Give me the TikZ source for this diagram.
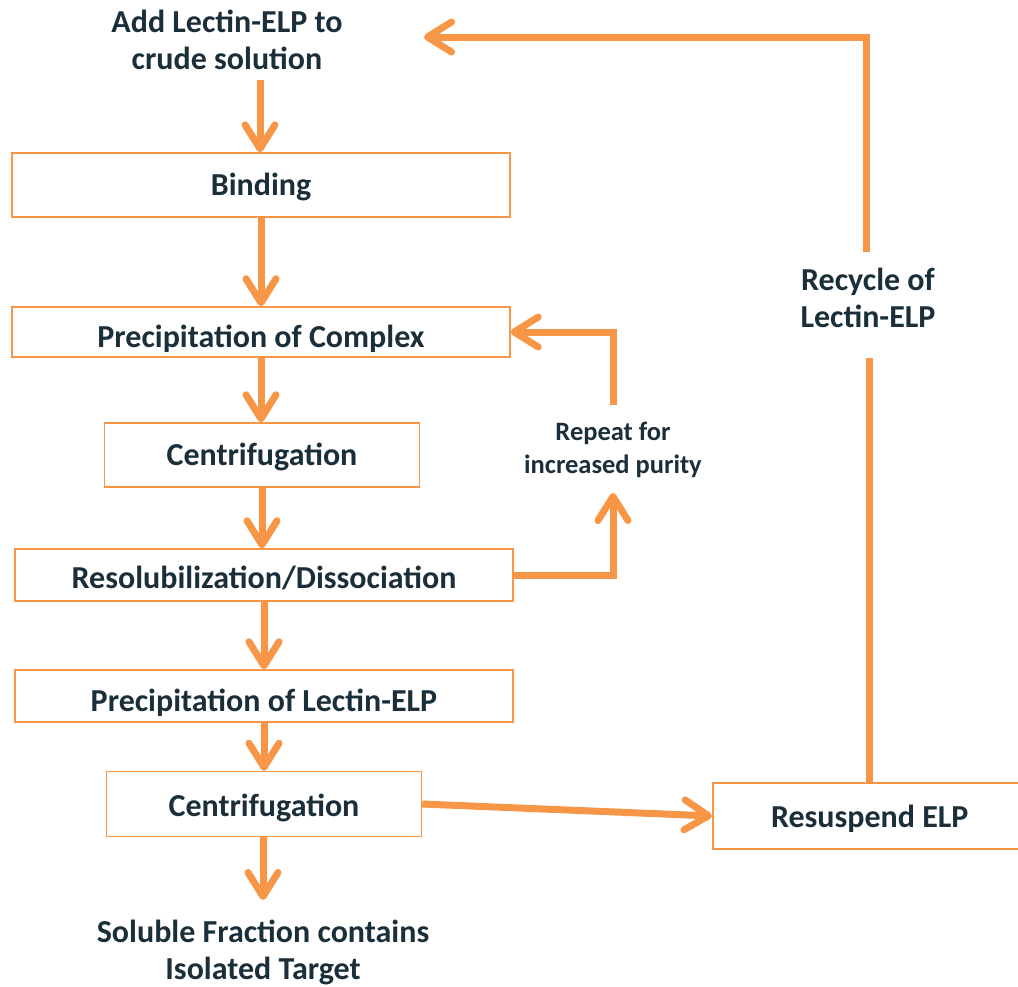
\documentclass[tikz,border=0pt]{standalone}
\usepackage{fontspec}
\setmainfont{Carlito}
\usetikzlibrary{arrows.meta}
\definecolor{org}{HTML}{F79646}
\definecolor{txt}{HTML}{1B2F3A}
\begin{document}
\begin{tikzpicture}[x=1pt,y=-1pt,
  box/.style={draw=org,line width=1.5pt,fill=white,inner sep=0pt,text=txt,text depth=6.5pt,font=\fontsize{32}{37}\selectfont\bfseries},
  lbl/.style={text=txt,align=center,inner sep=0pt,font=\fontsize{32}{37}\selectfont\bfseries},
  slbl/.style={text=txt,align=center,inner sep=0pt,font=\fontsize{26.5}{33}\selectfont\bfseries},
  arr/.style={draw=org,line width=7pt,-{Straight Barb[length=24pt,width=30pt,round]}},
  ln/.style={draw=org,line width=7pt}]
\useasboundingbox (0,0) rectangle (1018,986);
\node[lbl] (add) at (227,40) {Add Lectin-ELP to\\crude solution};
\node[box,text height=28pt,minimum width=498pt,minimum height=64pt] (bind) at (261,185) {Binding};
\node[box,text height=38pt,minimum width=498pt,minimum height=50pt] (pc) at (261,332) {Precipitation of Complex};
\node[box,text height=28pt,minimum width=315pt,minimum height=64pt] (c1) at (262,455) {Centrifugation};
\node[box,text height=34pt,minimum width=498pt,minimum height=52pt] (res) at (264,575) {Resolubilization/Dissociation};
\node[box,text height=38pt,minimum width=498pt,minimum height=52pt] (pl) at (264,696) {Precipitation of Lectin-ELP};
\node[box,text height=32pt,minimum width=315pt,minimum height=65pt] (c2) at (264,804) {Centrifugation};
\node[box,text height=30pt,minimum width=320pt,minimum height=66pt,anchor=west] (rs) at (712,816) {\hspace*{-6pt}Resuspend ELP};
\node[lbl] (sol) at (263,952) {Soluble Fraction contains\\Isolated Target};
\node[slbl] (rep) at (613,450) {Repeat for\\increased purity};
\node[lbl] (rec) at (868,298) {Recycle of\\Lectin-ELP};
\coordinate (a1) at (260,80);
\coordinate (s1) at (263,837);
\coordinate (t1) at (263,900);
\coordinate (rp1) at (613,575);
\coordinate (rp2) at (613,493);
\coordinate (rp3) at (613,405);
\coordinate (rp4) at (613,332);
\coordinate (re1) at (869,783);
\coordinate (re2) at (869,358);
\coordinate (rc1) at (866,252);
\coordinate (rc2) at (866,37);
\coordinate (rc3) at (424,37);
\draw[arr] (a1) -- (a1 |- bind.north);
\draw[arr] (bind.south) -- (pc.north);
\draw[arr] (pc.south) -- (c1.north -| pc.south);
\draw[arr] (c1.south) -- (res.north -| c1.south);
\draw[arr] (res.south) -- (pl.north);
\draw[arr] (pl.south) -- (c2.north);
\draw[arr] (s1) -- (t1);
\draw[arr,line join=miter] (res.east) -- (rp1) -- (rp2);
\draw[arr,line join=miter] (rp3) -- (rp4) -- (pc.east);
\draw[arr] (c2.east) -- (rs.west);
\draw[ln] (re1) -- (re2);
\draw[arr,line join=miter] (rc1) -- (rc2) -- (rc3);
\end{tikzpicture}
\end{document}
